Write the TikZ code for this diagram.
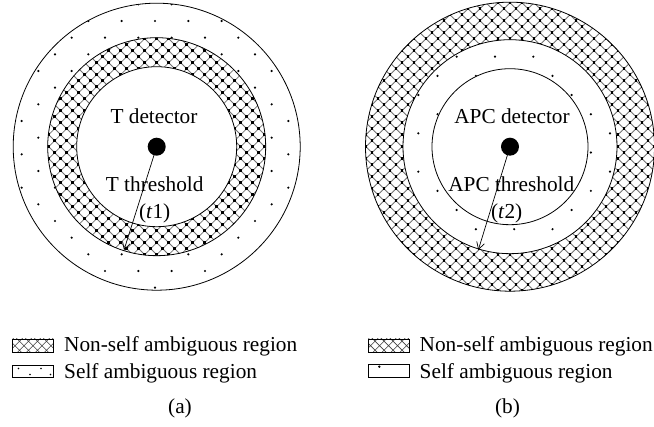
\documentclass[tikz,border=0pt]{standalone}
\usepackage{fontspec}
\setmainfont{Liberation Serif}
\usetikzlibrary{arrows.meta}
% #1 cx, #2 cy, #3 half size, #4 line index range, #5 dot index range, #6 spacing a
\newcommand\hatchlat[6]{%
  \draw[hatchline] \foreach \k in {-#4,...,#4}{(#1+\k*#6-#3-10, #2+#3+10) -- (#1+\k*#6+#3+10, #2-#3-10) (#1+\k*#6-#3-10, #2-#3-10) -- (#1+\k*#6+#3+10, #2+#3+10)};
  \foreach \p in {-#5,...,#5}{\foreach \q in {-#5,...,#5}{%
    \fill[hatchdot] (#1+\p*#6-1.4, #2+\q*#6-1.4) rectangle +(2.8,2.8);
    \fill[hatchdot] (#1+\p*#6+#6/2-1.4, #2+\q*#6+#6/2-1.4) rectangle +(2.8,2.8);
  }}%
}
\begin{document}
\begin{tikzpicture}[x=1pt,y=-1pt,
  hatchline/.style={draw=black!55,line width=0.8pt},
  hatchdot/.style={fill=black},
  selfdot/.style={fill=black},
  ring/.style={draw=black,line width=0.8pt},
  lbl/.style={font=\fontsize{21.3}{25}\selectfont,inner sep=0pt,anchor=base},
  legtext/.style={font=\fontsize{21.3}{25}\selectfont,inner sep=0pt,anchor=base west},
  swatch/.style={draw=black,line width=0.8pt},
  centerdot/.style={circle,fill=black,inner sep=0pt,minimum size=18pt},
  arr/.style={line width=0.7pt,-{Straight Barb[length=7pt,width=8pt]}}]
\useasboundingbox (0,0) rectangle (654,427);
\fill[white] (0,0) rectangle (654,427);

% ---------------- left figure ----------------
\begin{scope}
  \clip (156.7,146.7) circle (143.5pt);
  \foreach \p in {-5,...,5}{\foreach \q in {-1,...,8}{%
    \fill[selfdot] (155+\p*33.33, 21+\q*33.33) circle (1.2pt);
    \fill[selfdot] (171.67+\p*33.33, 37.67+\q*33.33) circle (1.2pt);
  }}
\end{scope}
\fill[white] (156.7,146.7) circle (109pt);
\begin{scope}
  \clip (156.7,146.7) circle (109pt);
  \hatchlat{156.7}{146.7}{110}{14}{10}{12}
\end{scope}
\fill[white] (156.7,146.7) circle (80pt);
\draw[ring] (156.7,146.7) circle (143.5pt);
\draw[ring] (156.7,146.7) circle (109pt);
\draw[ring] (156.7,146.7) circle (80pt);
\node[centerdot] (dL) at (156.7,146.7) {};
\coordinate (aL) at (124,250);
\draw[arr] (dL.center) -- (aL);
\node[lbl] (tdL) at (154,124) {T detector};
\node[lbl] (ttL) at (154.7,191.7) {T threshold};
\node[lbl] (t1) at (154.7,218.3) {(\textit{t}1)};

% ---------------- right figure ----------------
\begin{scope}
  \clip (510,146.7) circle (144.5pt);
  \hatchlat{510}{146.7}{145}{18}{13}{12}
\end{scope}
\fill[white] (510,146.7) circle (107pt);
\begin{scope}
  \clip (510,146.7) circle (107pt);
  \foreach \p in {-4,...,4}{\foreach \q in {-3,...,4}{%
    \fill[selfdot] (495+\p*38.33, 56.7+\q*38.33) circle (1.2pt);
    \fill[selfdot] (514.2+\p*38.33, 75.9+\q*38.33) circle (1.2pt);
  }}
\end{scope}
\fill[white] (510,146.7) circle (78pt);
\draw[ring] (510,146.7) circle (144.5pt);
\draw[ring] (510,146.7) circle (107pt);
\draw[ring] (510,146.7) circle (78pt);
\node[centerdot] (dR) at (510,146.7) {};
\coordinate (aR) at (478.3,250);
\draw[arr] (dR.center) -- (aR);
\node[lbl] (tdR) at (512,123.3) {APC detector};
\node[lbl] (ttR) at (511.3,191.7) {APC threshold};
\node[lbl] (t2) at (506.7,218.3) {(\textit{t}2)};

% ---------------- legends ----------------
\begin{scope}[hatchline/.style={draw=black!75,line width=0.6pt}]
  \clip (12.7,339) rectangle (53.3,352.3);
  \draw[hatchline] \foreach \k in {-7,...,7}{(33+\k*9-35, 345.7+35) -- (33+\k*9+35, 345.7-35) (33+\k*9-35, 345.7-35) -- (33+\k*9+35, 345.7+35)};
\end{scope}
\draw[swatch] (12.7,339) rectangle (53.3,352.3);
\draw[swatch] (12.7,365) rectangle (53.3,377.3);
\fill[selfdot] (18.5,368.5) circle (0.9pt);
\fill[selfdot] (30,374.5) circle (0.9pt);
\fill[selfdot] (41,368.5) circle (0.9pt);
\fill[selfdot] (50.5,374.5) circle (0.9pt);
\node[legtext] (l1) at (64,352) {Non-self ambiguous region};
\node[legtext] (l2) at (64,379) {Self ambiguous region};

\begin{scope}[hatchline/.style={draw=black!75,line width=0.6pt}]
  \clip (368.3,339) rectangle (408.9,352.3);
  \draw[hatchline] \foreach \k in {-7,...,7}{(388.6+\k*9-35, 345.7+35) -- (388.6+\k*9+35, 345.7-35) (388.6+\k*9-35, 345.7-35) -- (388.6+\k*9+35, 345.7+35)};
\end{scope}
\draw[swatch] (368.3,339) rectangle (408.9,352.3);
\draw[swatch] (368.3,364.3) rectangle (408.9,377.3);
\fill[selfdot] (379.3,366.7) circle (1.3pt);
\node[legtext] (r1) at (419.5,352) {Non-self ambiguous region};
\node[legtext] (r2) at (419.5,379) {Self ambiguous region};

\node[lbl] (capa) at (180,414) {(a)};
\node[lbl] (capb) at (507.5,414) {(b)};
\end{tikzpicture}
\end{document}
